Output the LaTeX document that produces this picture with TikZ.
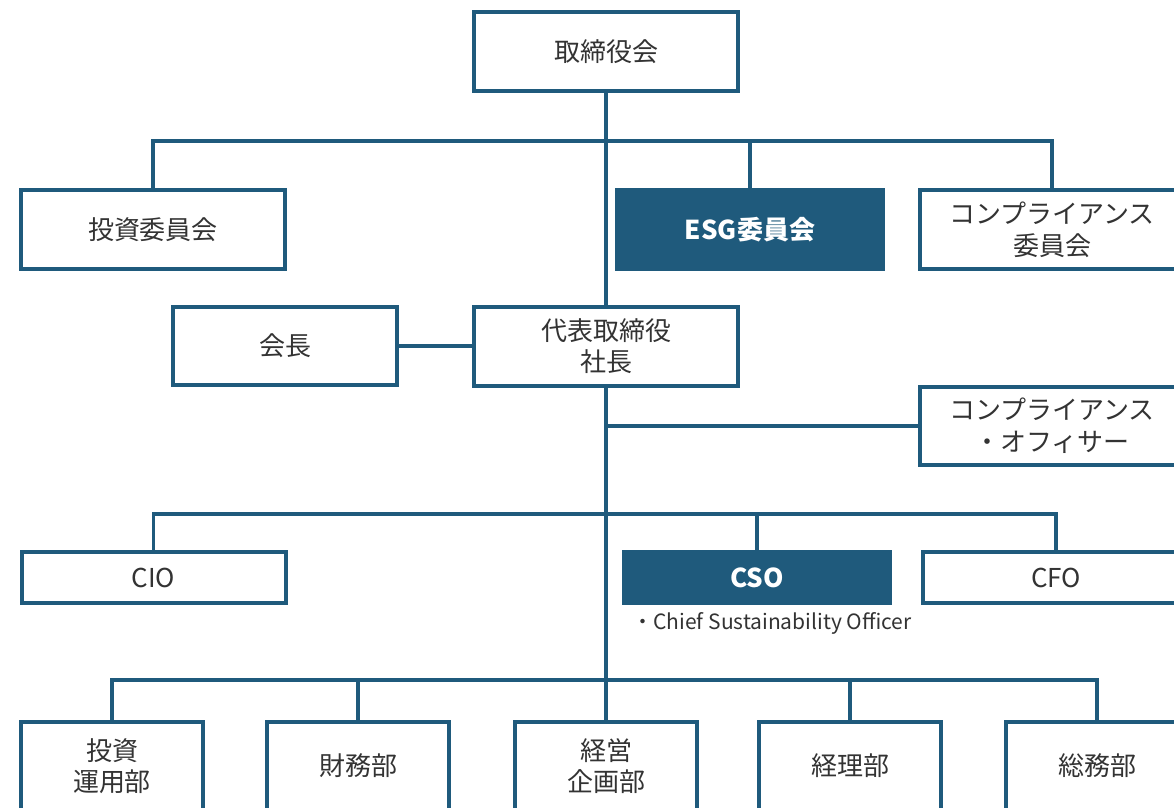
\documentclass[tikz,border=0pt]{standalone}
\usepackage{fontspec}
\newfontfamily\jp{Noto Sans CJK JP}
\definecolor{bl}{HTML}{1F5A7C}
\definecolor{tx}{HTML}{333333}
\begin{document}
\begin{tikzpicture}[x=0.5pt,y=-0.5pt,
  box/.style={draw=bl, line width=2pt, fill=white, inner sep=0pt, align=center,
    text=tx, font=\jp\fontsize{13pt}{15.8pt}\selectfont},
  hbox/.style={box, fill=bl, text=white, font=\jp\bfseries\fontsize{13pt}{15.8pt}\selectfont},
  wide/.style={minimum width=132pt, minimum height=39.5pt},
  lowb/.style={minimum width=132pt, minimum height=25.5pt},
  dept/.style={minimum width=91pt, minimum height=44pt},
  conn/.style={draw=bl, line width=1.8pt}]
\useasboundingbox (0,0) rectangle (1174,808);
% boxes
\node[box, wide] (board) at (606,51.5) {取締役会};
\node[box, wide] (invc) at (153,229.5) {投資委員会};
\node[hbox, wide, minimum width=133pt] (esg) at (750,229.5) {ESG委員会};
\node[box, wide] (compc) at (1052,229.5) {コンプライアンス\\委員会};
\node[box, wide] (pres) at (606,346) {代表取締役\\社長};
\node[box, minimum width=112pt, minimum height=39pt] (chair) at (285,346) {会長};
\node[box, wide, minimum height=39pt] (coo) at (1052,426) {コンプライアンス\\・オフィサー};
\node[box, lowb] (cio) at (153.5,577.5) {CIO};
\node[hbox, lowb, minimum width=133pt] (cso) at (757,577.5) {CSO};
\node[box, lowb, minimum width=133pt] (cfo) at (1056,577.5) {CFO};
\node[anchor=west, inner sep=0pt, text=tx, font=\jp\fontsize{10.5pt}{12pt}\selectfont] (csol) at (632,623) {・Chief Sustainability Officer};
\node[box, dept] (d1) at (112,766) {投資\\運用部};
\node[box, dept] (d2) at (358,766) {財務部};
\node[box, dept] (d3) at (606,766) {経営\\企画部};
\node[box, dept] (d4) at (850,766) {経理部};
\node[box, dept] (d5) at (1097,766) {総務部};
% bus coordinates
\coordinate (b1) at (606,141);
\coordinate (b2) at (606,514);
\coordinate (b3) at (606,680);
% connectors
\path[conn] (board.south) -- (pres.north);
\path[conn] (invc.north) |- (b1) -| (compc.north);
\path[conn] (esg.north) -- (esg.north |- b1);
\path[conn] (chair.east) -- (pres.west);
\path[conn] (pres.south) -- (d3.north);
\path[conn] (coo.west) -- (coo.west -| pres.south);
\path[conn] (cio.north) |- (b2) -| (cfo.north);
\path[conn] (cso.north) -- (cso.north |- b2);
\path[conn] (d1.north) |- (b3) -| (d5.north);
\path[conn] (d2.north) -- (d2.north |- b3);
\path[conn] (d4.north) -- (d4.north |- b3);
\end{tikzpicture}
\end{document}
